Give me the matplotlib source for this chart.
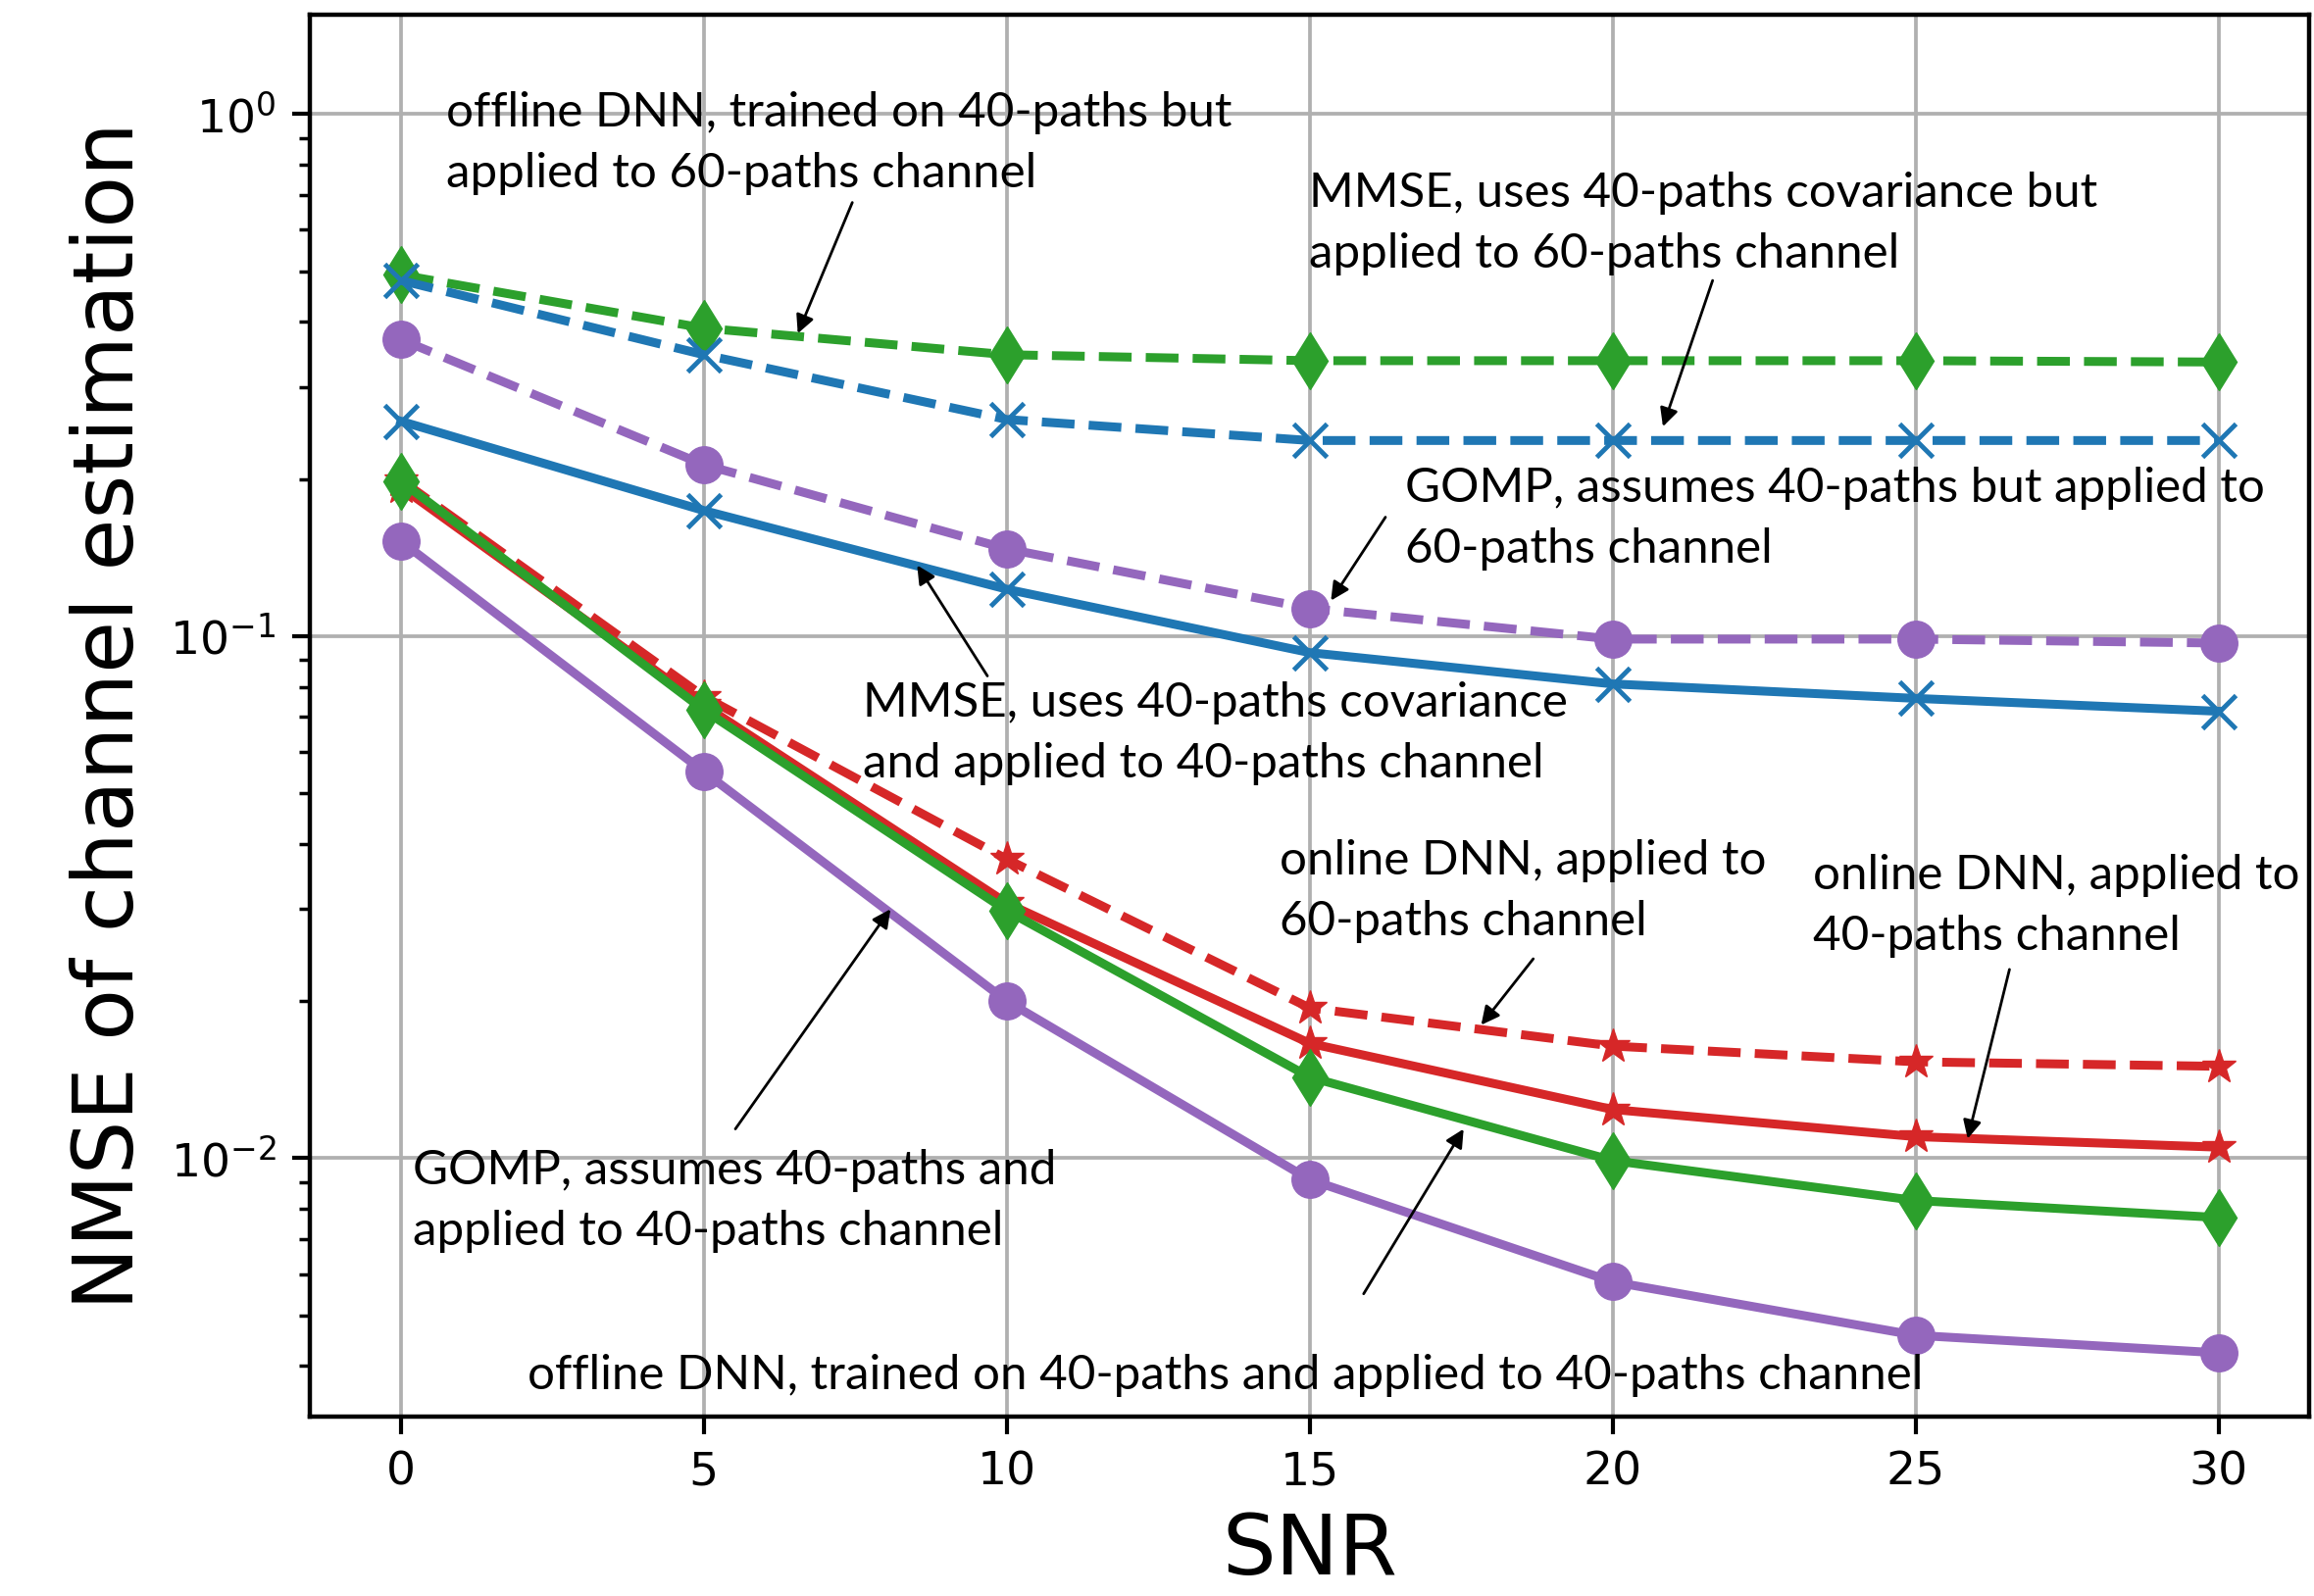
import numpy as np
import matplotlib.pyplot as plt

plt.rcParams['font.family'] = 'DejaVu Sans'

snr = [0, 5, 10, 15, 20, 25, 30]

# NMSE curves, 40-path trained / 40-path channel
offline_dnn_40 = [0.198, 0.0722, 0.0298, 0.0143, 0.0099, 0.0083, 0.0077]
online_dnn_40 = [0.193, 0.0737, 0.0308, 0.0166, 0.0124, 0.0110, 0.0105]
mmse_40 = [0.258, 0.174, 0.123, 0.093, 0.081, 0.076, 0.0718]
gomp_40 = [0.152, 0.055, 0.0200, 0.0091, 0.0058, 0.00458, 0.00424]

# NMSE curves applied to the 60-path channel
offline_dnn_60 = [0.492, 0.389, 0.346, 0.337, 0.337, 0.337, 0.335]
online_dnn_60 = [0.199, 0.0766, 0.0374, 0.0194, 0.0164, 0.0153, 0.0150]
mmse_60 = [0.480, 0.346, 0.260, 0.237, 0.237, 0.237, 0.237]
gomp_60 = [0.370, 0.213, 0.147, 0.113, 0.0987, 0.0987, 0.097]

notes = [
    ("offline DNN, trained on 40-paths but\napplied to 60-paths channel", (0.75, 0.878), (7.45, 0.677), (6.55, 0.380)),
    ("MMSE, uses 40-paths covariance but\napplied to 60-paths channel", (14.99, 0.618), (21.65, 0.480), (20.83, 0.252)),
    ("GOMP, assumes 40-paths but applied to\n60-paths channel", (16.57, 0.168), (16.25, 0.169), (15.35, 0.117)),
    ("MMSE, uses 40-paths covariance\nand applied to 40-paths channel", (7.62, 0.0651), (9.68, 0.0839), (8.52, 0.1367)),
    ("online DNN, applied to\n60-paths channel", (14.5, 0.0325), (18.69, 0.0241), (17.83, 0.0180)),
    ("online DNN, applied to\n40-paths channel", (23.31, 0.0304), (26.55, 0.0230), (25.86, 0.0109)),
    ("GOMP, assumes 40-paths and\napplied to 40-paths channel", (0.2, 0.00828), (5.52, 0.01138), (8.08, 0.030)),
    ("offline DNN, trained on 40-paths and applied to 40-paths channel", (2.09, 0.00384), (15.89, 0.0055), (17.54, 0.01138)),
]

fig = plt.figure(figsize=(23.6, 16.28), dpi=100)
ax = fig.add_axes([0.134, 0.1124, 0.864, 0.8784])

lw = 6.5
ax.plot(snr, online_dnn_40, '-', marker='*', color='tab:red', lw=lw, ms=26)
ax.plot(snr, online_dnn_60, '--', marker='*', color='tab:red', lw=lw, ms=26)
ax.plot(snr, offline_dnn_40, '-', marker='d', color='tab:green', lw=lw, ms=30)
ax.plot(snr, offline_dnn_60, '--', marker='d', color='tab:green', lw=lw, ms=30)
ax.plot(snr, mmse_40, '-', marker='x', color='tab:blue', lw=lw, ms=24, mew=3.5)
ax.plot(snr, mmse_60, '--', marker='x', color='tab:blue', lw=lw, ms=24, mew=3.5)
ax.plot(snr, gomp_40, '-', marker='o', color='tab:purple', lw=lw, ms=27)
ax.plot(snr, gomp_60, '--', marker='o', color='tab:purple', lw=lw, ms=27)

ax.set_yscale('log')
ax.set_xlim(-1.5, 31.5)
ax.set_ylim(0.0032, 1.55)
ax.set_xticks([0, 5, 10, 15, 20, 25, 30])
ax.grid(True, which='major', color='#b0b0b0', lw=2.7)
ax.set_axisbelow(True)

for s in ax.spines.values():
    s.set_linewidth(3.2)
ax.tick_params(which='major', labelsize=34, length=13, width=3, pad=12)
ax.tick_params(which='minor', length=8, width=2.5)

ax.set_xlabel('SNR', fontsize=62, labelpad=12)
ax.set_ylabel('NMSE of channel estimation', fontsize=62, labelpad=14)

for txt, tpos, tail, head in notes:
    ax.text(tpos[0], tpos[1], txt, fontsize=35.5, family='Lato', ha='left', va='center',
            linespacing=1.5)
    ax.annotate('', xy=head, xytext=tail,
                arrowprops=dict(arrowstyle='-|>', color='black', lw=2, mutation_scale=28,
                                shrinkA=0, shrinkB=0))

fig.savefig('out.png', dpi=100)
